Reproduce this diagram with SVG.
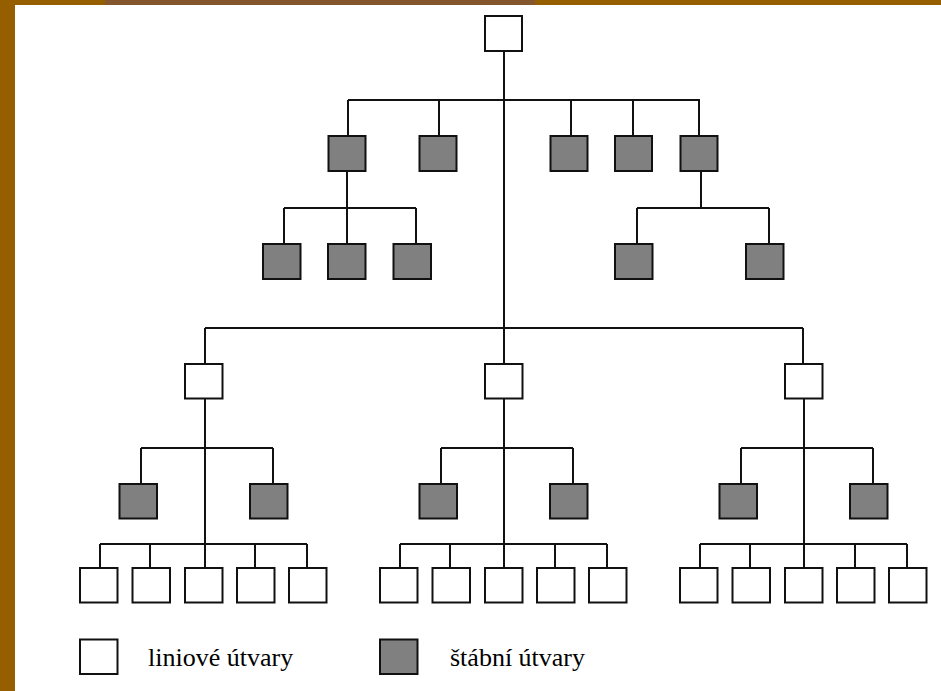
<svg xmlns="http://www.w3.org/2000/svg" width="941" height="691" viewBox="0 0 941 691">
<style>
.ln{stroke:#111;stroke-width:2;fill:none}
.w{fill:#fff;stroke:#111;stroke-width:2}
.g{fill:#808080;stroke:#111;stroke-width:2}
.t{font-family:"Liberation Serif","Times New Roman",serif;font-size:26px;fill:#000}
</style>
<rect x="0" y="0" width="941" height="691" fill="#955f00"/>
<rect x="105" y="0" width="430" height="5" fill="#83562e"/>
<rect x="15" y="5" width="926" height="686" fill="#fff"/>
<g id="connectors" class="ln">
<path d="M504 51V364"/>
<path d="M348 100H700M348 100V136M439 100V136M571 100V136M633 100V136M699 100V136"/>
<path d="M347 171V208M284 208H416M284 208V244M347 208V244M416 208V244"/>
<path d="M701 171V208M637 208H769M637 208V244M769 208V244"/>
<path d="M205 328H803M205 328V364M803 328V364"/>
<path d="M205 398V568M141 448H273M141 448V484M273 448V484M100 544H307M100 544V568M150 544V568M255 544V568M307 544V568"/>
<path d="M504 398V568M441 448H573M441 448V484M573 448V484M400 544H607M400 544V568M450 544V568M555 544V568M607 544V568"/>
<path d="M804 398V568M741 448H873M741 448V484M873 448V484M700 544H907M700 544V568M750 544V568M855 544V568M907 544V568"/>
</g>
<g id="top"><rect class="w" x="485" y="16" width="37" height="35"/></g>
<g id="s1"><rect class="g" x="328.5" y="136" width="37" height="35"/></g>
<g id="s2"><rect class="g" x="419.5" y="136" width="37" height="35"/></g>
<g id="s3"><rect class="g" x="550.5" y="136" width="37" height="35"/></g>
<g id="s4"><rect class="g" x="615" y="136" width="37" height="35"/></g>
<g id="s5"><rect class="g" x="680.5" y="136" width="37" height="35"/></g>
<g id="s1a"><rect class="g" x="263" y="244" width="37.5" height="35"/></g>
<g id="s1b"><rect class="g" x="328" y="244" width="37.5" height="35"/></g>
<g id="s1c"><rect class="g" x="393.5" y="244" width="37.5" height="35"/></g>
<g id="s5a"><rect class="g" x="615" y="244" width="37.5" height="35"/></g>
<g id="s5b"><rect class="g" x="746" y="244" width="37.5" height="35"/></g>
<g id="l1"><rect class="w" x="185" y="364" width="37.5" height="34.5"/></g>
<g id="l2"><rect class="w" x="485" y="364" width="37.5" height="34.5"/></g>
<g id="l3"><rect class="w" x="785" y="364" width="37.5" height="34.5"/></g>
<g id="l1s1"><rect class="g" x="119.5" y="484" width="37.5" height="34.5"/></g>
<g id="l1s2"><rect class="g" x="250" y="484" width="37.5" height="34.5"/></g>
<g id="l2s1"><rect class="g" x="419.5" y="484" width="37.5" height="34.5"/></g>
<g id="l2s2"><rect class="g" x="550" y="484" width="37.5" height="34.5"/></g>
<g id="l3s1"><rect class="g" x="719.5" y="484" width="37.5" height="34.5"/></g>
<g id="l3s2"><rect class="g" x="850" y="484" width="37.5" height="34.5"/></g>
<g id="l1b1"><rect class="w" x="80" y="568" width="37.5" height="34.5"/></g>
<g id="l1b2"><rect class="w" x="132.5" y="568" width="37.5" height="34.5"/></g>
<g id="l1b3"><rect class="w" x="185" y="568" width="37.5" height="34.5"/></g>
<g id="l1b4"><rect class="w" x="237" y="568" width="37.5" height="34.5"/></g>
<g id="l1b5"><rect class="w" x="289" y="568" width="37.5" height="34.5"/></g>
<g id="l2b1"><rect class="w" x="380" y="568" width="37.5" height="34.5"/></g>
<g id="l2b2"><rect class="w" x="432.5" y="568" width="37.5" height="34.5"/></g>
<g id="l2b3"><rect class="w" x="485" y="568" width="37.5" height="34.5"/></g>
<g id="l2b4"><rect class="w" x="537" y="568" width="37.5" height="34.5"/></g>
<g id="l2b5"><rect class="w" x="589" y="568" width="37.5" height="34.5"/></g>
<g id="l3b1"><rect class="w" x="680" y="568" width="37.5" height="34.5"/></g>
<g id="l3b2"><rect class="w" x="732.5" y="568" width="37.5" height="34.5"/></g>
<g id="l3b3"><rect class="w" x="785" y="568" width="37.5" height="34.5"/></g>
<g id="l3b4"><rect class="w" x="837" y="568" width="37.5" height="34.5"/></g>
<g id="l3b5"><rect class="w" x="889" y="568" width="37.5" height="34.5"/></g>
<g id="legend-line"><rect class="w" x="80" y="639.5" width="37.5" height="34.5"/><text class="t" x="148" y="666">liniové útvary</text></g>
<g id="legend-staff"><rect class="g" x="380" y="639.5" width="37.5" height="34.5"/><text class="t" x="450" y="666">štábní útvary</text></g>
</svg>
